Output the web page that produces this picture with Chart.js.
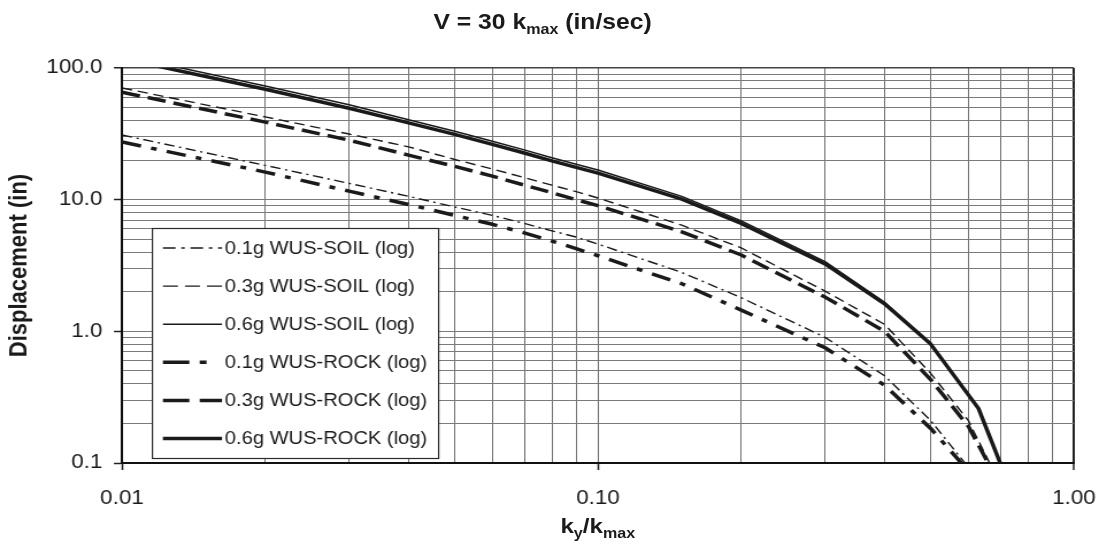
<!DOCTYPE html>
<html>
<head>
<meta charset="utf-8">
<script src="https://cdn.jsdelivr.net/npm/chart.js@4.4.1/dist/chart.umd.min.js"></script>
<style>
  html, body { margin: 0; padding: 0; background: #ffffff; overflow: hidden; }
  #wrap { position: absolute; left: 0; top: 0; width: 956px; height: 544px;
          transform: scaleX(1.14958); transform-origin: 0 0; }
  #c { position: absolute; left: 0; top: 0; }
  .ttl { position: absolute; font-family: "Liberation Sans", Arial, sans-serif; font-weight: bold;
         color: #1a1a1a; line-height: 24px; white-space: nowrap; text-align: center; }
  .ttl .sb { font-size: 14px; position: relative; top: 5px; }
</style>
</head>
<body>
<div id="wrap">
  <canvas id="c" width="956" height="544" style="width:956px;height:544px"></canvas>
  <div class="ttl" id="title" style="left:0; width:944px; top:10px; font-size:21.5px;">V = 30 k<span class="sb">max</span> (in/sec)</div>
  <div class="ttl" id="xtitle" style="left:320px; width:400px; top:514px; font-size:21px;">k<span class="sb">y</span>/k<span class="sb">max</span></div>
</div>
<script>
// ---- data ----
const kRatio = [0.01, 0.02, 0.03, 0.04, 0.05, 0.06, 0.07, 0.08, 0.09, 0.10, 0.15, 0.20, 0.30, 0.40, 0.50];
const kTailSoil01 = [0.59];
const kTailRock01 = [0.58];
const kTailSoil03 = [0.60, 0.665];
const kTailRock03 = [0.60, 0.66];
const kTail06 = [0.63, 0.70];

const soil01 = [31, 18.2, 13.3, 10.6, 8.8, 7.6, 6.6, 5.8, 5.2, 4.6, 2.8, 1.8, 0.9, 0.46, 0.21, 0.1];
const soil03 = [70.5, 42.5, 31.5, 25.2, 20.2, 17.1, 14.7, 12.9, 11.5, 10.3, 6.4, 4.3, 2.02, 1.13, 0.48, 0.21, 0.1];
const soil06 = [125, 73, 52.5, 40.5, 33.1, 27.8, 23.9, 20.8, 18.6, 16.8, 10.6, 6.9, 3.38, 1.66, 0.81, 0.26, 0.1];
const rock01 = [27.4, 16.2, 11.6, 9.2, 7.6, 6.5, 5.6, 4.85, 4.25, 3.75, 2.3, 1.45, 0.75, 0.39, 0.183, 0.1];
const rock03 = [65.5, 38.8, 28.3, 21.8, 17.9, 15.1, 12.9, 11.3, 10.0, 9.0, 5.7, 3.8, 1.82, 1.0, 0.43, 0.19, 0.1];
const rock06 = [118, 69, 49.5, 38.3, 31.3, 26.3, 22.6, 19.7, 17.6, 15.9, 10.1, 6.6, 3.25, 1.62, 0.80, 0.26, 0.1];

const seriesLabels = ['0.1g WUS-SOIL (log)', '0.3g WUS-SOIL (log)', '0.6g WUS-SOIL (log)',
                      '0.1g WUS-ROCK (log)', '0.3g WUS-ROCK (log)', '0.6g WUS-ROCK (log)'];

const xMajorTicks = [0.01, 0.1, 1];
const xTickLabels = ['0.01', '0.10', '1.00'];
const yMajorTicks = [0.1, 1, 10, 100];
const yTickLabels = ['0.1', '1.0', '10.0', '100.0'];

// ---- helpers ----
function pts(ks, vals) { return ks.map((k, i) => ({ x: k, y: vals[i] })); }
function logTicks(majors) {
  const out = [];
  for (let i = 0; i < majors.length; i++) {
    const m = majors[i];
    if (i === majors.length - 1) { out.push({ value: m, major: true }); break; }
    for (let j = 1; j <= 9; j++) {
      out.push({ value: parseFloat((m * j).toPrecision(6)), major: j === 1 });
    }
  }
  return out;
}
function labelFor(v, majors, labels) {
  for (let i = 0; i < majors.length; i++) {
    if (Math.abs(v - majors[i]) < majors[i] * 1e-6) return labels[i];
  }
  return '';
}

const INK = '#1a1a1a';
const FONT = '"Liberation Sans", Arial, sans-serif';

const datasets = [
  { label: seriesLabels[0], data: pts(kRatio.concat(kTailSoil01), soil01), borderWidth: 1.4, borderDash: [9, 4, 2, 4], legendDash: [11, 5, 3, 5] },
  { label: seriesLabels[1], data: pts(kRatio.concat(kTailSoil03), soil03), borderWidth: 1.4, borderDash: [9, 5], legendDash: [13, 6.2] },
  { label: seriesLabels[2], data: pts(kRatio.concat(kTail06), soil06), borderWidth: 1.5, borderDash: [], legendDash: [] },
  { label: seriesLabels[3], data: pts(kRatio.concat(kTailRock01), rock01), borderWidth: 3.5, borderDash: [17, 9, 5, 9], legendDash: [23, 9, 6, 100] },
  { label: seriesLabels[4], data: pts(kRatio.concat(kTailRock03), rock03), borderWidth: 3.5, borderDash: [16, 7], legendDash: [23, 9] },
  { label: seriesLabels[5], data: pts(kRatio.concat(kTail06), rock06), borderWidth: 3.5, borderDash: [], legendDash: [] }
].map(d => Object.assign({
  borderColor: INK, backgroundColor: INK, pointRadius: 0, pointHoverRadius: 0,
  tension: 0, fill: false, borderCapStyle: 'butt', borderJoinStyle: 'round'
}, d));

// custom boxed legend inside the plot area
const boxedLegend = {
  id: 'boxedLegend',
  afterDraw(chart) {
    const ctx = chart.ctx, a = chart.chartArea;
    const left = a.left + 26, top = 228, w = 249, h = a.bottom - 5 - top;
    ctx.save();
    ctx.fillStyle = '#ffffff';
    ctx.fillRect(left, top, w, h);
    ctx.strokeStyle = '#2a2a2a';
    ctx.lineWidth = 1.2;
    ctx.strokeRect(left + 0.5, top + 0.5, w, h);
    ctx.font = '17.5px ' + FONT;
    ctx.textBaseline = 'middle';
    ctx.textAlign = 'left';
    chart.data.datasets.forEach((ds, i) => {
      const y = top + 20 + i * 38.1;
      ctx.beginPath();
      ctx.strokeStyle = ds.borderColor;
      ctx.lineWidth = ds.borderWidth;
      ctx.setLineDash(ds.legendDash || ds.borderDash || []);
      ctx.lineCap = 'butt';
      ctx.moveTo(left + 9.6, y);
      ctx.lineTo(left + 61, y);
      ctx.stroke();
      ctx.setLineDash([]);
      ctx.fillStyle = INK;
      ctx.fillText(ds.label, left + 63.5, y + 1);
    });
    ctx.restore();
  }
};

new Chart(document.getElementById('c'), {
  type: 'line',
  data: { datasets },
  plugins: [boxedLegend],
  options: {
    responsive: false,
    animation: false,
    devicePixelRatio: 1,
    layout: { padding: { left: 0, right: 21.8, top: 68, bottom: 0 } },
    plugins: { legend: { display: false }, tooltip: { enabled: false }, title: { display: false } },
    scales: {
      x: {
        type: 'logarithmic', min: 0.01, max: 1,
        afterBuildTicks: s => { s.ticks = logTicks(xMajorTicks); },
        afterFit: s => { s.height = 81; s.paddingLeft = 0; s.paddingRight = 0; },
        ticks: {
          autoSkip: false, maxRotation: 0, padding: 17, color: INK,
          font: { family: FONT, size: 19.5 },
          callback: v => labelFor(v, xMajorTicks, xTickLabels)
        },
        grid: {
          color: c => (c.tick && Math.abs(c.tick.value - 1) < 1e-6) ? '#222' : '#6f6f6f',
          lineWidth: c => (c.tick && Math.abs(c.tick.value - 1) < 1e-6) ? 2 : 1,
          tickLength: 7,
          tickColor: c => (c.tick && c.tick.major) ? '#222' : 'rgba(0,0,0,0)',
          tickWidth: 1.5
        },
        border: { color: '#111', width: 2 }
      },
      y: {
        type: 'logarithmic', min: 0.1, max: 100,
        afterBuildTicks: s => { s.ticks = logTicks(yMajorTicks); },
        afterFit: s => { s.width = 106.1; s.paddingTop = 0; s.paddingBottom = 0; },
        ticks: {
          autoSkip: false, padding: 10, color: INK,
          font: { family: FONT, size: 19.5 },
          callback: v => labelFor(v, yMajorTicks, yTickLabels)
        },
        grid: {
          color: c => (c.tick && Math.abs(c.tick.value - 100) < 1e-6) ? '#444' : '#7b7b7b',
          lineWidth: c => (c.tick && Math.abs(c.tick.value - 100) < 1e-6) ? 1.5 : 1,
          tickLength: 7,
          tickColor: c => (c.tick && c.tick.major) ? '#222' : 'rgba(0,0,0,0)',
          tickWidth: 1.5
        },
        border: { color: '#111', width: 2 },
        title: {
          display: true, text: 'Displacement (in)', color: INK,
          font: { family: FONT, size: 22, weight: 'bold' },
          padding: { top: 4, bottom: 0 }
        }
      }
    }
  }
});
</script>
</body>
</html>
